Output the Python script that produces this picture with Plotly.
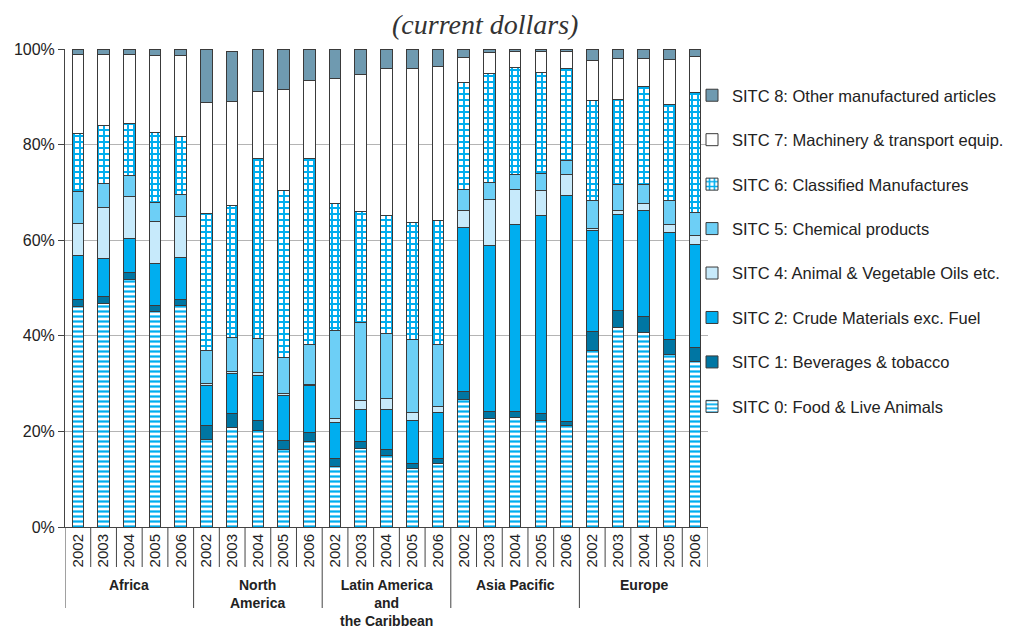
import plotly.graph_objects as go

regions = ["Africa", "North<br>America", "Latin America<br>and<br>the Caribbean", "Asia Pacific", "Europe"]
years = ["2002", "2003", "2004", "2005", "2006"]
y_ticks = [0, 20, 40, 60, 80, 100]
y_tick_labels = ["0%", "20%", "40%", "60%", "80%", "100%"]

sitc0 = [46.1, 46.8, 51.7, 45.0, 46.3, 18.4, 20.9, 20.1, 16.2, 17.8, 12.6, 16.4, 15.0, 12.2, 13.3,
         26.7, 22.8, 22.9, 22.3, 21.3, 37.0, 41.8, 40.7, 36.0, 34.6]
sitc1 = [1.5, 1.4, 1.6, 1.4, 1.3, 2.8, 2.8, 2.2, 2.0, 1.9, 1.7, 1.4, 1.2, 1.1, 1.0,
         1.7, 1.3, 1.3, 1.4, 0.8, 4.0, 3.5, 3.3, 3.2, 2.9]
sitc2 = [9.3, 8.0, 7.0, 8.8, 8.8, 8.5, 8.5, 9.5, 9.3, 9.8, 7.6, 6.8, 8.4, 9.0, 9.6,
         34.3, 34.7, 39.1, 41.4, 47.2, 21.0, 20.0, 22.3, 22.4, 21.6]
sitc4 = [6.6, 10.6, 8.8, 8.7, 8.5, 0.3, 0.3, 0.6, 0.4, 0.3, 0.7, 1.9, 2.3, 1.6, 1.4,
         3.6, 9.8, 7.4, 5.2, 4.4, 0.5, 1.0, 1.3, 1.6, 1.9]
sitc5 = [6.7, 5.1, 4.4, 4.0, 4.7, 7.0, 7.2, 7.1, 7.5, 8.3, 18.6, 16.2, 13.6, 15.3, 12.9,
         4.4, 3.5, 3.1, 3.7, 2.9, 5.9, 5.4, 4.1, 5.2, 4.9]
sitc6 = [12.2, 12.2, 10.9, 14.7, 12.1, 28.5, 27.5, 37.5, 35.1, 38.9, 26.4, 23.3, 24.7, 24.5, 26.0,
         22.3, 22.7, 22.4, 21.1, 19.4, 20.8, 17.7, 20.5, 19.9, 24.9]
sitc7 = [16.4, 14.7, 14.4, 16.1, 16.9, 23.3, 21.8, 14.1, 21.0, 16.4, 26.3, 28.6, 30.7, 32.2, 32.2,
         5.3, 4.5, 3.3, 4.3, 3.5, 8.4, 8.6, 5.8, 9.5, 7.7]
sitc8 = [1.2, 1.2, 1.2, 1.3, 1.4, 11.2, 10.5, 8.9, 8.5, 6.6, 6.1, 5.4, 4.1, 4.1, 3.6,
         1.7, 0.7, 0.5, 0.6, 0.5, 2.4, 2.0, 2.0, 2.2, 1.5]

series_names = ["SITC 0: Food & Live Animals", "SITC 1: Beverages & tobacco",
                "SITC 2: Crude Materials exc. Fuel", "SITC 4: Animal & Vegetable Oils etc.",
                "SITC 5: Chemical products", "SITC 6: Classified Manufactures",
                "SITC 7: Machinery & transport equip.", "SITC 8: Other manufactured articles"]
series_values = [sitc0, sitc1, sitc2, sitc4, sitc5, sitc6, sitc7, sitc8]

CYAN = "#00aeef"
styles = [
    dict(color="white", pattern=dict(shape="-", fgcolor=CYAN, bgcolor="white", size=5, solidity=0.45, fillmode="replace")),
    dict(color="#0076a3"),
    dict(color=CYAN),
    dict(color="#c7eafb"),
    dict(color="#6dcff6"),
    dict(color="white", pattern=dict(shape="+", fgcolor=CYAN, bgcolor="white", size=6, solidity=0.55, fillmode="replace")),
    dict(color="white"),
    dict(color="#6f9ab0"),
]

n_years = len(years)
xs = [r * n_years + y for r in range(len(regions)) for y in range(n_years)]
tick_text = [yr for _ in regions for yr in years]

FONT = "Liberation Sans, Arial, Helvetica, sans-serif"
TXT = "#222222"

fig = go.Figure()
k = len(series_names)
for i, (name, vals, st) in enumerate(zip(series_names, series_values, styles)):
    fig.add_trace(go.Bar(
        x=xs, y=vals, name=name, width=0.45, legendgroup=name, legendrank=k - i,
        marker=dict(color=st["color"], pattern=st.get("pattern"),
                    line=dict(color="#3a3a3a", width=1)),
    ))

# The page body has an 8px margin, so the figure is laid out 8px smaller
OFF = 8
W, H = 1012 - OFF, 630 - OFF
# plot area in reference pixels: x 65..708, y 49..527
PL, PR, PT, PB = 65, 708, 49, 527
L, R, T, B = PL - OFF, W - (PR - OFF), PT - OFF, H - (PB - OFF)
ph = PB - PT
pw = PR - PL

def py(pix):
    return (PB - pix) / ph

def px(pix):
    return (pix - PL) / pw

shapes = []
n = len(xs)
for i in range(0, n + 1):
    xb = i - 0.5
    is_region = (i % n_years == 0) and i < n
    y_end = py(608) if is_region else py(567)
    shapes.append(dict(type="line", xref="x", yref="paper", x0=xb, x1=xb, y0=0, y1=y_end,
                       line=dict(color="#444444", width=1)))

annotations = []
for r, reg in enumerate(regions):
    annotations.append(dict(x=r * n_years + (n_years - 1) / 2, xref="x", y=py(575), yref="paper",
                            text="<b>" + reg + "</b>", showarrow=False, yanchor="top", xanchor="center",
                            font=dict(family=FONT, size=14, color=TXT)))
annotations.append(dict(x=px(485), xref="paper", y=py(OFF), yref="paper",
                        text="<i>(current dollars)</i>", showarrow=False, xanchor="center", yanchor="top",
                        borderpad=0,
                        font=dict(family="Liberation Serif, Times New Roman, serif", size=28, color="#333333")))

fig.update_layout(
    width=W, height=H, barmode="stack",
    margin=dict(l=L, r=R, t=T, b=B, autoexpand=False),
    paper_bgcolor="white", plot_bgcolor="white",
    showlegend=True,
    legend=dict(x=px(692), xanchor="left", y=py(78), yanchor="top", traceorder="grouped",
                tracegroupgap=20, font=dict(family=FONT, size=16.5, color=TXT),
                bgcolor="rgba(0,0,0,0)", itemwidth=30),
    xaxis=dict(range=[-0.5, n - 0.5], tickmode="array", tickvals=xs, ticktext=tick_text,
               tickangle=-90, ticks="", showgrid=False, showline=True, linecolor="#444444",
               tickfont=dict(family=FONT, size=15, color=TXT), zeroline=False),
    yaxis=dict(range=[0, 100], tickmode="array", tickvals=y_ticks, ticktext=y_tick_labels,
               showgrid=True, gridcolor="#b4b4b4", gridwidth=1, showline=True, linecolor="#444444",
               ticks="outside", ticklen=6, tickcolor="#444444",
               tickfont=dict(family=FONT, size=16, color=TXT), zeroline=False),
    shapes=shapes, annotations=annotations,
)

fig.write_html("out.html")
